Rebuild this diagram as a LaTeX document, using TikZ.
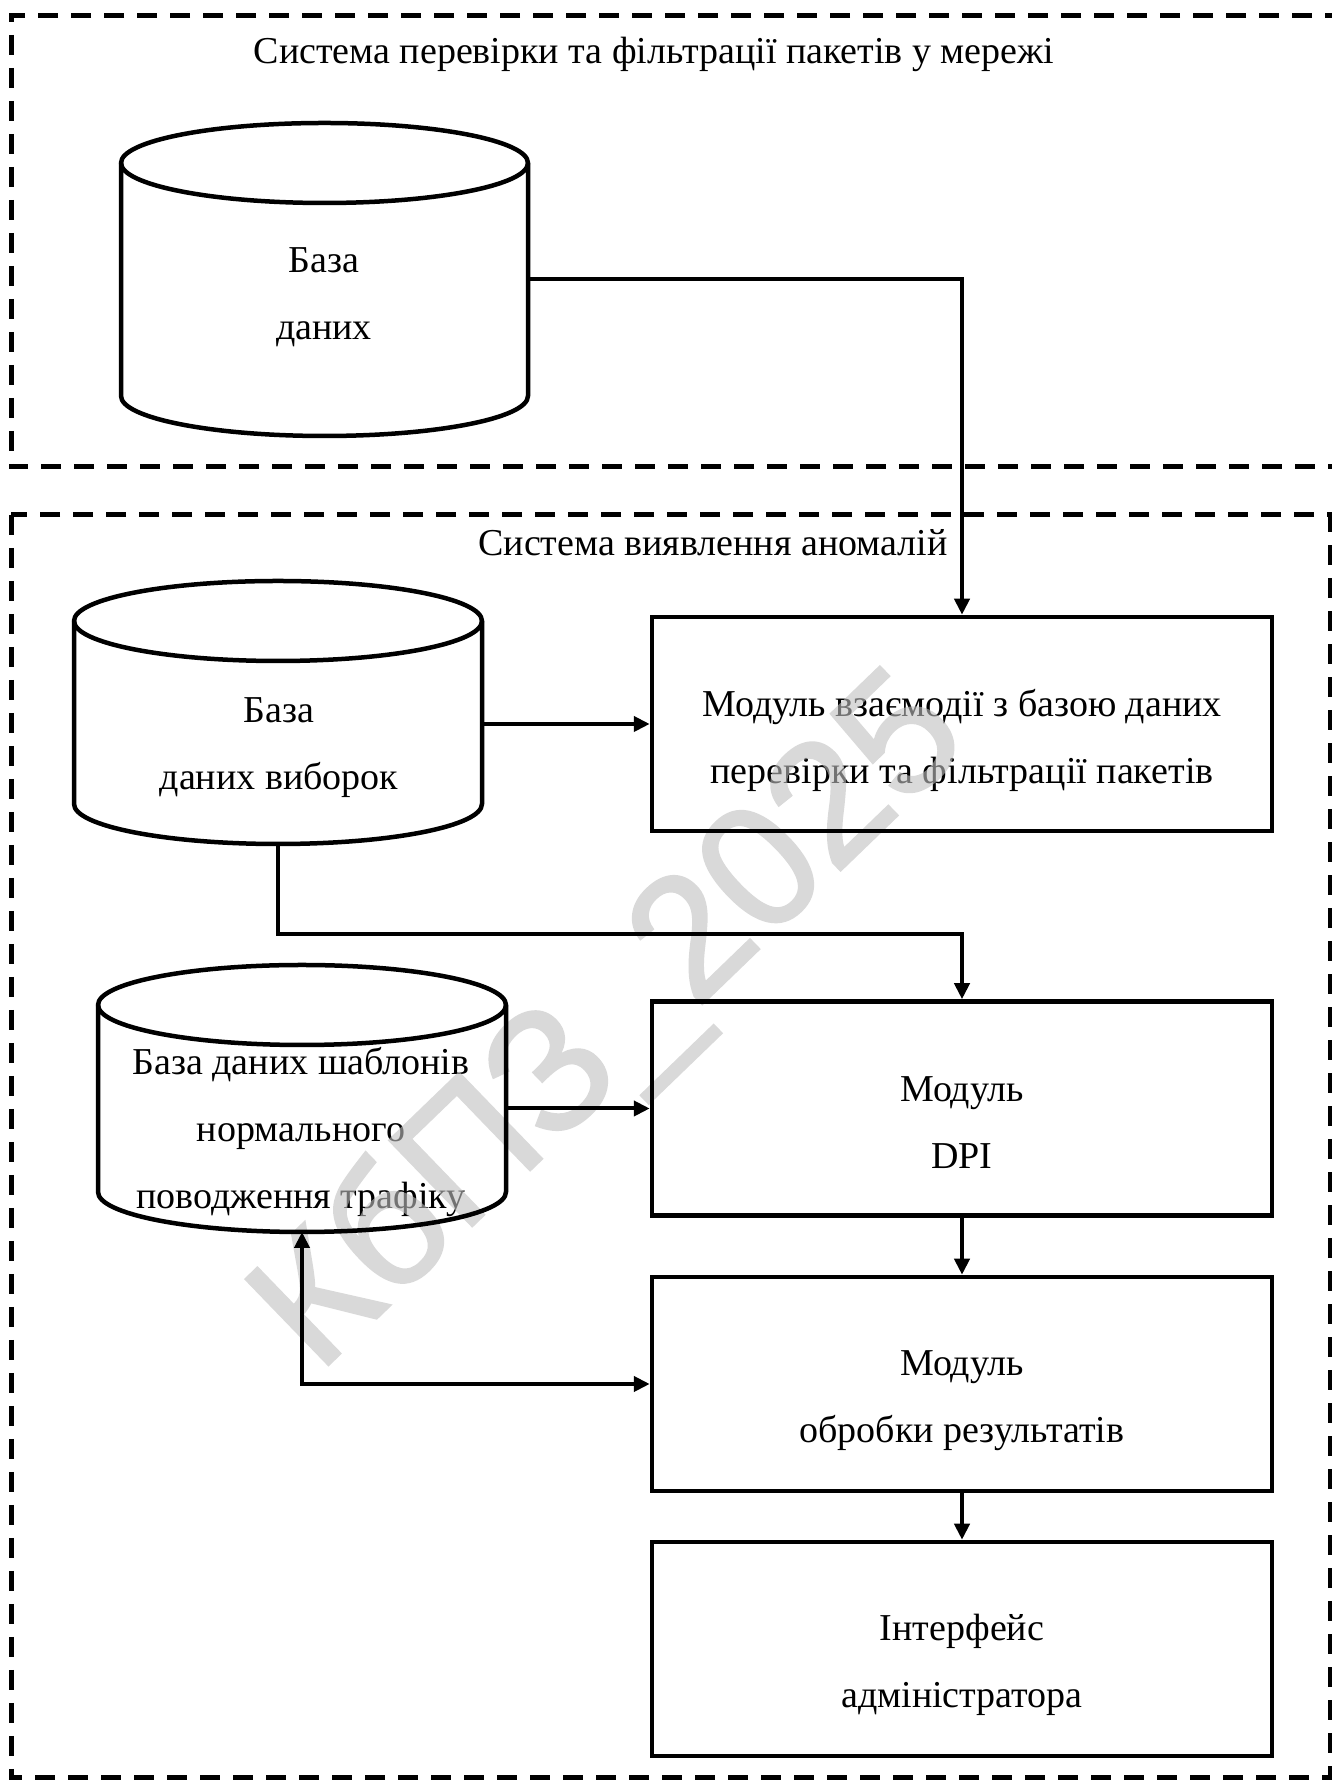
\documentclass[tikz,border=0pt]{standalone}
\usepackage{fontspec}
\setmainfont{Liberation Serif}
\newfontfamily\wmfont[FakeBold=1.5]{Liberation Sans}
\usetikzlibrary{arrows.meta,calc}
\pgfdeclarelayer{wm}
\pgfdeclarelayer{fg}
\pgfsetlayers{main,wm,fg}
\newcommand\mycyl[3]{%
  \draw[cylbody] ($(#1.north west)+(0,-#3)$) -- ($(#1.south west)+(0,#3)$)
    arc[start angle=180,end angle=360,x radius=#2,y radius=#3]
    -- ($(#1.north east)+(0,-#3)$)
    arc[start angle=0,end angle=180,x radius=#2,y radius=#3] -- cycle;
  \draw[cylbody] ($(#1.north west)+(0,-#3)$)
    arc[start angle=180,end angle=360,x radius=#2,y radius=#3];}
\begin{document}
\begin{tikzpicture}[x=1pt,y=1pt,
  txt/.style={align=center,font=\fontsize{38}{67}\selectfont,inner sep=0pt,outer sep=0pt,text depth=-21.2pt},
  l1/.style={text height=21.2pt},
  l2/.style={text height=88.2pt},
  l3/.style={text height=155.2pt},
  box/.style={draw,line width=4.5pt,minimum width=620pt,minimum height=214pt,inner sep=0pt},
  cylframe/.style={inner sep=0pt,outer sep=0pt},
  cylbody/.style={line width=4.5pt,line join=round},
  tip/.tip={Triangle[length=16pt,width=15pt]},
  conn/.style={line width=4pt,-tip},
  frame/.style={line width=5pt,dash pattern=on 20pt off 13pt},
]
\useasboundingbox (0,0) rectangle (1332,1783);

% frames
\begin{pgfonlayer}{fg}
\draw[frame] (1345,1767) -- (11,1767) -- (11,1316) -- (1345,1316);
\draw[frame] (11,1268) rectangle (1330,5);
\end{pgfonlayer}

% titles
\node[txt,l1] (t1) at (654,1730) {Система перевірки та фільтрації пакетів у мережі};
\node[txt,l1] (t2) at (713,1238) {Система виявлення аномалій};

% cylinders
\node[cylframe,minimum width=407pt,minimum height=313pt] (c1) at (324.5,1503.5) {};
\node[cylframe,minimum width=408pt,minimum height=263pt] (c2) at (278,1070.5) {};
\node[cylframe,minimum width=408pt,minimum height=267pt] (c3) at (302,684.5) {};
\begin{pgfonlayer}{fg}
\mycyl{c1}{203.5}{40}
\mycyl{c2}{204}{40}
\mycyl{c3}{204}{40}
\end{pgfonlayer}
\node[txt,l2] (c1t) at (324,1487.5) {База\\даних};
\node[txt,l2] (c2t) at (279,1038) {База\\даних виборок};
\node[txt,l3] (c3t) at (301,652) {База даних шаблонів\\нормального\\поводження трафіку};

% boxes
\begin{pgfonlayer}{fg}
\node[box] (b1) at (962,1059) {};
\node[box] (b2) at (962,674.5) {};
\node[box] (b3) at (962,399) {};
\node[box] (b4) at (962,134) {};
\end{pgfonlayer}
\node[txt,l2] (b1t) at (962,1043.5) {Модуль взаємодії з базою даних\\перевірки та фільтрації пакетів};
\node[txt,l2] (b2t) at (962,659) {Модуль\\DPI};
\node[txt,l2] (b3t) at (962,385) {Модуль\\обробки результатів};
\node[txt,l2] (b4t) at (962,120) {Інтерфейс\\адміністратора};

% watermark
\begin{pgfonlayer}{wm}
\begin{scope}[transparency group,opacity=0.6]
\node[font=\wmfont\fontsize{173}{180}\selectfont,text=black!25,
      rotate=44,inner sep=0pt,text height=0.72em,text depth=0pt] (wm) at (643,727) {КбПЗ\_2025};
\end{scope}
\end{pgfonlayer}

% connectors
\begin{pgfonlayer}{fg}
\draw[conn] (c1.east) -| (b1.north);
\draw[conn] (b1.west -| c2.east) -- (b1.west);
\draw[conn] (c2.south) -- ++(0,-90) -| (b2.north);
\draw[conn] (b2.west -| c3.east) -- (b2.west);
\draw[conn] (b2.south) -- (b3.north);
\draw[conn] (b3.south) -- (b4.north);
\draw[conn,tip-tip] (c3.south) |- (b3.west);
\end{pgfonlayer}
\end{tikzpicture}
\end{document}
